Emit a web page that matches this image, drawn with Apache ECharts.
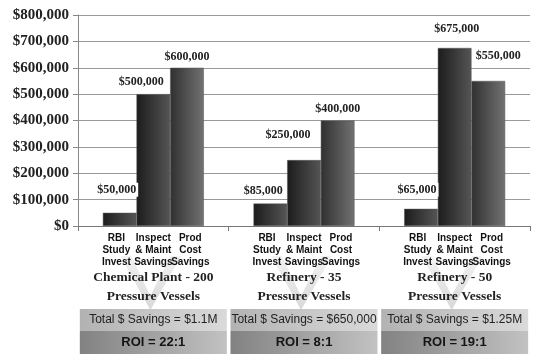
<!DOCTYPE html>
<html><head><meta charset="utf-8">
<script src="https://cdn.jsdelivr.net/npm/echarts@6/dist/echarts.min.js"></script>
<style>html,body{margin:0;padding:0;background:#fff}#c{width:536px;height:354px}</style>
</head><body><div id="c"></div>
<script>
// ---- data ----
const groups = ['Chemical Plant - 200|Pressure Vessels', 'Refinery - 35|Pressure Vessels', 'Refinery - 50|Pressure Vessels'];
const subLabels = [['RBI', 'Study', 'Invest'], ['Inspect', '& Maint', 'Savings'], ['Prod', 'Cost', 'Savings']];
const seriesNames = ['RBI Study Invest', 'Inspect & Maint Savings', 'Prod Cost Savings'];
const rbiInvest = [50000, 85000, 65000];
const inspectSavings = [500000, 250000, 675000];
const prodSavings = [600000, 400000, 550000];
const totalSavings = ['$1.1M', '$650,000', '$1.25M'];
const roi = ['22:1', '8:1', '19:1'];
const yMin = 0, yMax = 800000, yStep = 100000;

// ---- styling (label nudges, colours) ----
const labelNudge = [
  [[-3, -16], [-7, -6], [-4, -12]],
  [[-12, -5], [-16, -18], [2, -12]],
  [[0, -4], [0, -5], [10, -18]]
];
const barGrad = [
  ['#1c1c1c', '#555555'],
  ['#1c1c1c', '#555555'],
  ['#303030', '#727272']
];
const seriesData = [rbiInvest, inspectSavings, prodSavings];
const money = v => '$' + Number(v).toLocaleString('en-US');

const chart = echarts.init(document.getElementById('c'), null, {renderer: 'canvas'});
const lg = (a, b) => new echarts.graphic.LinearGradient(0, 0, 1, 0, [{offset: 0, color: a}, {offset: 1, color: b}]);

const series = seriesData.map((arr, si) => ({
  name: seriesNames[si],
  type: 'bar',
  barGap: '0%',
  barCategoryGap: '33%',
  itemStyle: {color: lg(barGrad[si][0], barGrad[si][1]), borderColor: '#555', borderWidth: 0.5},
  label: {
    show: true, position: 'top', distance: 0,
    formatter: p => money(p.value),
    fontFamily: '"Liberation Serif", "Times New Roman", serif',
    fontWeight: 'bold', fontSize: 12, color: '#222',
    backgroundColor: '#fff', padding: [1, 2]
  },
  data: arr.map((v, gi) => ({value: v, label: {offset: labelNudge[si][gi]}})),
  animation: false
}));

chart.setOption({
  animation: false,
  grid: {left: 78, right: 6, top: 15, bottom: 126, containLabel: false},
  xAxis: {
    type: 'category',
    data: groups,
    axisLine: {lineStyle: {color: '#777', width: 1}},
    axisTick: {show: true, length: 5, interval: 0, lineStyle: {color: '#777'}},
    axisLabel: {
      interval: 0, margin: 6,
      formatter: (v, i) => {
        const lines = [];
        for (let r = 0; r < 3; r++) {
          lines.push('{s|' + subLabels[0][r] + '}{s|' + subLabels[1][r] + '}{s|' + subLabels[2][r] + '}');
        }
        const parts = groups[i].split('|');
        lines.push('{g|' + parts[0] + '}');
        lines.push('{g|' + parts[1] + '}');
        lines.push('{gap| }');
        lines.push('{t|Total $ Savings = ' + totalSavings[i] + '}');
        lines.push('{r|ROI = ' + roi[i] + '}');
        return lines.join('\n');
      },
      rich: {
        s: {width: 37, align: 'center', fontFamily: '"Liberation Sans", Arial, sans-serif', fontWeight: 'bold', fontSize: 10, lineHeight: 12, color: '#111'},
        g: {fontFamily: '"Liberation Serif", "Times New Roman", serif', fontWeight: 'bold', fontSize: 13.5, lineHeight: 19, color: '#222'},
        gap: {fontSize: 2, lineHeight: 3, height: 3},
        t: {width: 147, height: 22, lineHeight: 22, align: 'center', fontFamily: '"Liberation Sans", Arial, sans-serif', fontSize: 12, color: '#222',
            backgroundColor: lg('#b2b2b2', '#dadada')},
        r: {width: 147, height: 23, lineHeight: 23, align: 'center', fontFamily: '"Liberation Sans", Arial, sans-serif', fontWeight: 'bold', fontSize: 13, color: '#151515',
            backgroundColor: lg('#828282', '#c2c2c2')}
      }
    }
  },
  yAxis: {
    type: 'value', min: yMin, max: yMax, interval: yStep,
    axisLine: {show: true, lineStyle: {color: '#888'}},
    axisTick: {show: true, length: 5, lineStyle: {color: '#888'}},
    splitLine: {lineStyle: {color: '#999', width: 1}},
    axisLabel: {
      formatter: money, margin: 9,
      fontFamily: '"Liberation Serif", "Times New Roman", serif',
      fontWeight: 'bold', fontSize: 15, color: '#222'
    }
  },
  series: series
});

// decorative faint chevrons behind the group captions, placed via the axis scale
const baseY = chart.convertToPixel({yAxisIndex: 0}, 0);
const chevrons = groups.map((g, i) => {
  const cx = chart.convertToPixel({xAxisIndex: 0}, i) - 3;
  const top = baseY + 30, tip = baseY + 84;
  return {
    type: 'polygon', z: -10, silent: true,
    shape: {points: [[cx - 30, top], [cx - 19, top], [cx, tip - 14], [cx + 20, top], [cx + 31, top], [cx, tip]]},
    style: {fill: new echarts.graphic.LinearGradient(0, 0, 0, 1, [{offset: 0, color: '#f2f2f2'}, {offset: 1, color: '#d8d8d8'}])}
  };
});
chart.setOption({graphic: chevrons});
</script></body></html>
